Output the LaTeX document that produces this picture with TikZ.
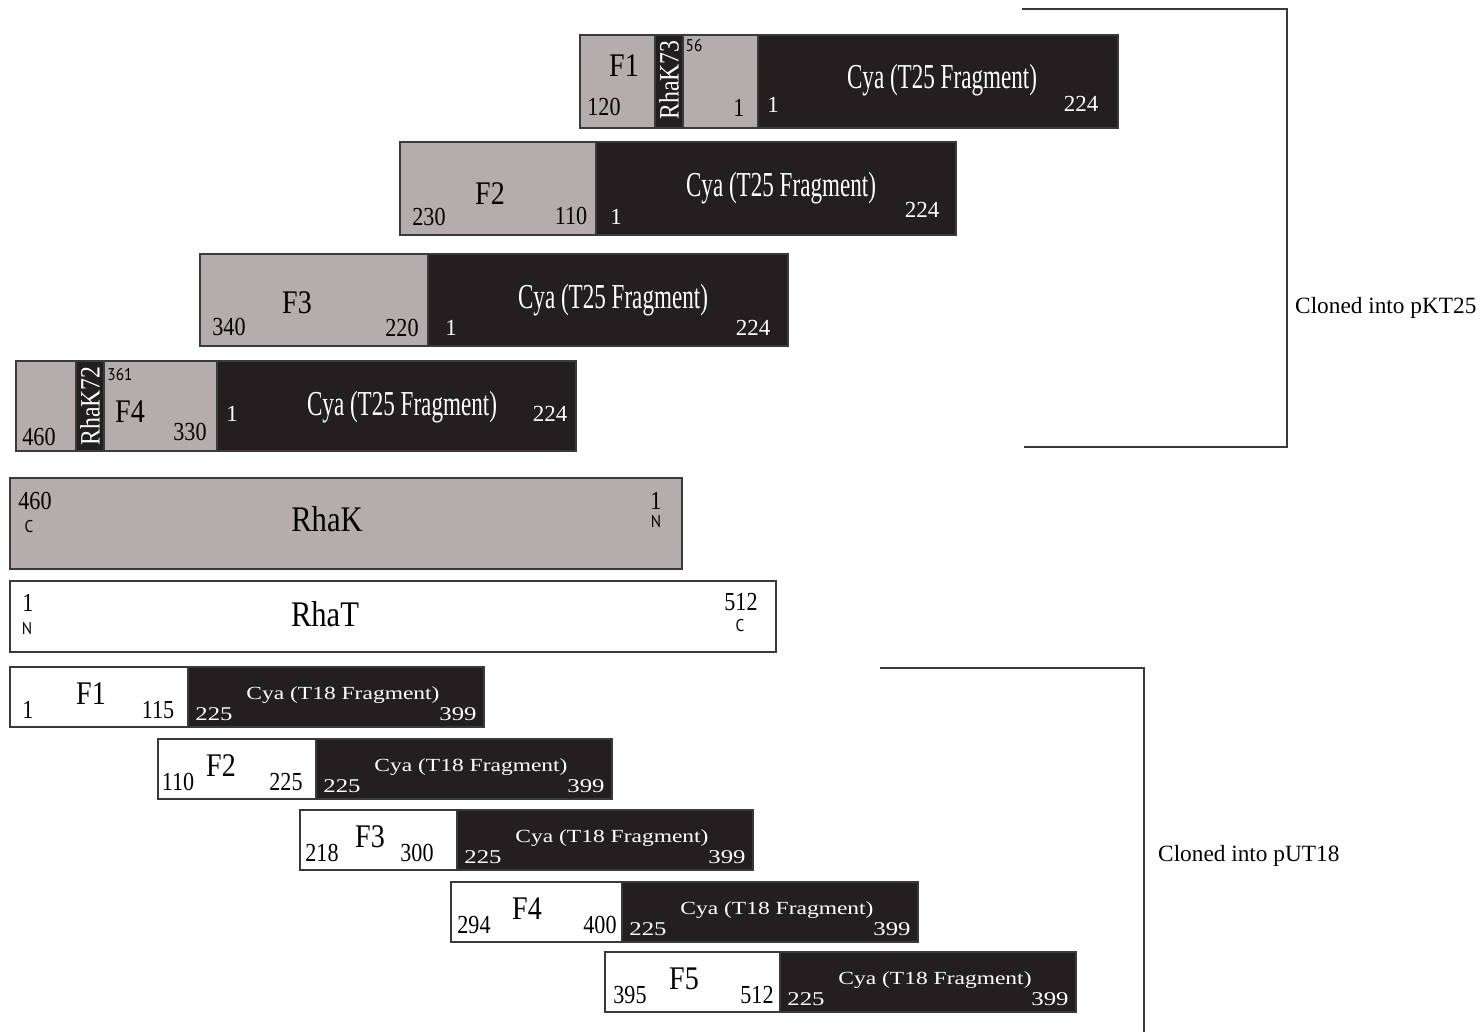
\documentclass[tikz,border=0pt]{standalone}
\usepackage{fontspec}
\setmainfont{Liberation Serif}
\newfontfamily\narrowserif[FakeStretch=0.66]{Liberation Serif}
\newfontfamily\midserif[FakeStretch=0.85]{Liberation Serif}
\newfontfamily\wideserif[FakeStretch=1.27]{Liberation Serif}
\newfontfamily\labelsans[FakeStretch=0.9]{PT Sans}

\definecolor{rhagray}{HTML}{B5ADAD}
\definecolor{cyablack}{HTML}{231F20}
\definecolor{edge}{HTML}{3A3A3A}

\tikzset{
    graypart/.style={draw=edge, line width=1.5pt, fill=rhagray},
    blackpart/.style={draw=edge, line width=1.5pt, fill=cyablack},
    whitepart/.style={draw=edge, line width=1.5pt, fill=white},
    lbl/.style={anchor=base, inner sep=0pt},
    cyaK/.style={lbl, text=white, font=\narrowserif\fontsize{35}{40}\selectfont},
    numK/.style={lbl, text=white, font=\fontsize{23}{28}\selectfont},
    numgray/.style={lbl, font=\midserif\fontsize{26}{30}\selectfont},
    fname/.style={lbl, font=\midserif\fontsize{33}{38}\selectfont},
    smallsans/.style={lbl, font=\labelsans\fontsize{17}{20}\selectfont},
    striplbl/.style={inner sep=0pt, rotate=90, text=white, font=\midserif\fontsize{28}{32}\selectfont},
    cyaU/.style={lbl, text=white, font=\wideserif\fontsize{18.5}{22}\selectfont},
    numU/.style={lbl, text=white, font=\wideserif\fontsize{19.5}{24}\selectfont},
    protein/.style={lbl, font=\midserif\fontsize{36}{40}\selectfont},
    bracket/.style={draw=edge, line width=1.5pt},
    cloned/.style={anchor=west, inner sep=0pt, font=\fontsize{23.3}{28}\selectfont},
}

\begin{document}
\begin{tikzpicture}[x=1pt, y=-1pt]
    \useasboundingbox (0,0) rectangle (1482,1032);

    % pKT25-Fusionen
    % F1 mit RhaK73
    \draw[graypart] (580,35) rectangle (758,128);
    \draw[blackpart] (655,35) rectangle (683,128);
    \draw[blackpart] (758,35) rectangle (1118,128);
    \node[fname] (k1-f) at (624,77) {F1};
    \node[numgray] (k1-l) at (604,116) {120};
    \node[striplbl] (k1-s) at (669,80) {RhaK73};
    \node[smallsans] (k1-m) at (694,52) {56};
    \node[numgray] (k1-r) at (739,117) {1};
    \node[numK] (k1-a) at (773,113) {1};
    \node[cyaK] (k1-c) at (942,89) {Cya (T25 Fragment)};
    \node[numK] (k1-b) at (1081,112) {224};

    % F2
    \draw[graypart] (400,142) rectangle (596,235);
    \draw[blackpart] (596,142) rectangle (956,235);
    \node[fname] (k2-f) at (490,205) {F2};
    \node[numgray] (k2-l) at (429,226) {230};
    \node[numgray] (k2-r) at (571,225) {110};
    \node[numK] (k2-a) at (616,225) {1};
    \node[cyaK] (k2-c) at (781,197) {Cya (T25 Fragment)};
    \node[numK] (k2-b) at (922,218) {224};

    % F3
    \draw[graypart] (200,254) rectangle (428,346);
    \draw[blackpart] (428,254) rectangle (788,346);
    \node[fname] (k3-f) at (297,313) {F3};
    \node[numgray] (k3-l) at (229,335) {340};
    \node[numgray] (k3-r) at (402,336) {220};
    \node[numK] (k3-a) at (451,335) {1};
    \node[cyaK] (k3-c) at (613,308) {Cya (T25 Fragment)};
    \node[numK] (k3-b) at (753,335) {224};

    % F4 mit RhaK72
    \draw[graypart] (16,361) rectangle (217,451);
    \draw[blackpart] (76,361) rectangle (104,451);
    \draw[blackpart] (217,361) rectangle (576,451);
    \node[numgray] (k4-l) at (39,445) {460};
    \node[striplbl] (k4-s) at (90,406) {RhaK72};
    \node[smallsans] (k4-m) at (120,380) {361};
    \node[fname] (k4-f) at (130,422) {F4};
    \node[numgray] (k4-r) at (190,440) {330};
    \node[numK] (k4-a) at (232,421) {1};
    \node[cyaK] (k4-c) at (402,415) {Cya (T25 Fragment)};
    \node[numK] (k4-b) at (550,421) {224};

    % Klammer pKT25
    \coordinate (kt-l) at (1022,9);
    \coordinate (kt-r) at (1287,9);
    \coordinate (kb-r) at (1287,447);
    \coordinate (kb-l) at (1024,447);
    \draw[bracket] (kt-l) -- (kt-r) -- (kb-r) -- (kb-l);
    \node[cloned] (kt-txt) at (1295,308) {Cloned into pKT25};

    % Volllaengen-Proteine
    \draw[graypart] (10,478) rectangle (682,569);
    \node[numgray] (rk-l) at (35,509) {460};
    \node[smallsans] (rk-c) at (29,532) {C};
    \node[protein] (rk) at (327,531) {RhaK};
    \node[numgray] (rk-r) at (656,509) {1};
    \node[smallsans] (rk-n) at (656,527) {N};

    \draw[whitepart] (10,581) rectangle (776,652);
    \node[numgray] (rt-l) at (28,611) {1};
    \node[smallsans] (rt-n) at (27,634) {N};
    \node[protein] (rt) at (325,626) {RhaT};
    \node[numgray] (rt-r) at (741,610) {512};
    \node[smallsans] (rt-c) at (740,631) {C};

    % pUT18-Fusionen
    \foreach \y/\xw/\xb/\fn/\fx/\ln/\lx/\rn/\rx [count=\i] in {
            667/10/188/F1/91/1/28/115/158,
            739/158/316/F2/221/110/178/225/286,
            810/300/457/F3/370/218/322/300/417,
            882/451/622/F4/527/294/474/400/600,
            952/605/780/F5/684/395/630/512/757} {
        \draw[whitepart] (\xw,\y) rectangle (\xb,\y+60);
        \draw[blackpart] (\xb,\y) rectangle (\xb+296,\y+60);
        \node[fname] (u\i-f) at (\fx,\y+37) {\fn};
        \node[numgray] (u\i-l) at (\lx,\y+51) {\ln};
        \node[numgray] (u\i-r) at (\rx,\y+51) {\rn};
        \node[numU] (u\i-a) at (\xb+26,\y+53) {225};
        \node[cyaU] (u\i-c) at (\xb+155,\y+32) {Cya (T18 Fragment)};
        \node[numU] (u\i-b) at (\xb+270,\y+53) {399};
    }

    % Klammer pUT18
    \coordinate (ut-l) at (880,668);
    \coordinate (ut-r) at (1144,668);
    \coordinate (ub-r) at (1144,1032);
    \draw[bracket] (ut-l) -- (ut-r) -- (ub-r);
    \node[cloned] (ut-txt) at (1158,856) {Cloned into pUT18};
\end{tikzpicture}
\end{document}
